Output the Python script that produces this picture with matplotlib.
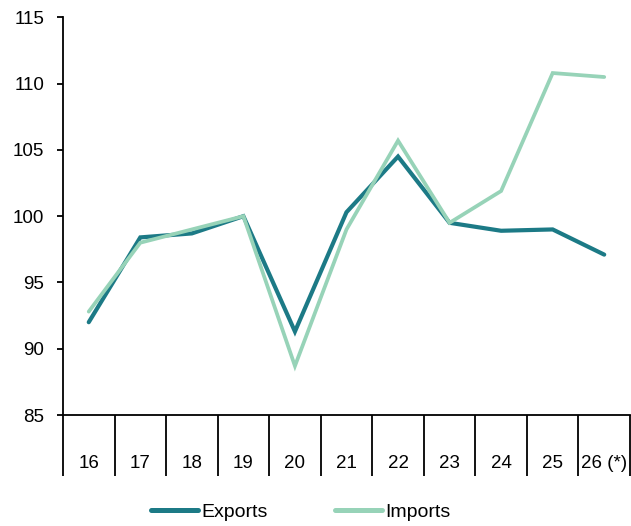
import matplotlib
matplotlib.use("Agg")
import matplotlib.pyplot as plt
import numpy as np

plt.rcParams['font.family'] = ['Liberation Sans', 'DejaVu Sans']

# Index values by year (19 = 100)
years = ["16", "17", "18", "19", "20", "21", "22", "23", "24", "25", "26 (*)"]
exports = [92.0, 98.4, 98.7, 100.0, 91.3, 100.3, 104.5, 99.5, 98.9, 99.0, 97.1]
imports = [92.8, 98.0, 99.0, 100.0, 88.7, 99.0, 105.7, 99.5, 101.9, 110.8, 110.5]

export_color = "#1c7a86"
import_color = "#97d3b8"

fig = plt.figure(figsize=(6.31, 5.26), dpi=100)
ax = fig.add_axes([0.0998, 0.211, 0.8986, 0.756])

x = np.arange(len(years))
ax.plot(x, exports, color=export_color, lw=3.0, solid_capstyle='round',
        solid_joinstyle='miter', label="Exports")
ax.plot(x, imports, color=import_color, lw=2.7, solid_capstyle='round',
        solid_joinstyle='miter', label="Imports")

ax.set_ylim(85, 115)
ax.set_yticks(np.arange(85, 116, 5))
ax.set_xlim(-0.5, len(years) - 0.5)

# category labels centred in each cell, separators as long minor ticks
ax.set_xticks(x)
ax.set_xticklabels(years)
ax.set_xticks(np.arange(-0.5, len(years)), minor=True)
ax.tick_params(axis='x', which='major', length=0, pad=29, labelsize=13.5)
ax.tick_params(axis='x', which='minor', length=44, width=1.3, direction='out')
ax.tick_params(axis='y', length=4.5, width=1.3, direction='out', labelsize=13.5, pad=9)

for side in ("top", "right"):
    ax.spines[side].set_visible(False)
for side in ("left", "bottom"):
    ax.spines[side].set_linewidth(1.3)

leg = fig.legend(loc='center', bbox_to_anchor=(0.4768, 1 - 512 / 526), ncol=2,
                 frameon=False, fontsize=14, handlelength=2.4, handletextpad=0.2,
                 columnspacing=3.45)
for line in leg.get_lines():
    line.set_linewidth(3.6)
    line.set_solid_capstyle('round')

fig.savefig("out.png", dpi=100)
